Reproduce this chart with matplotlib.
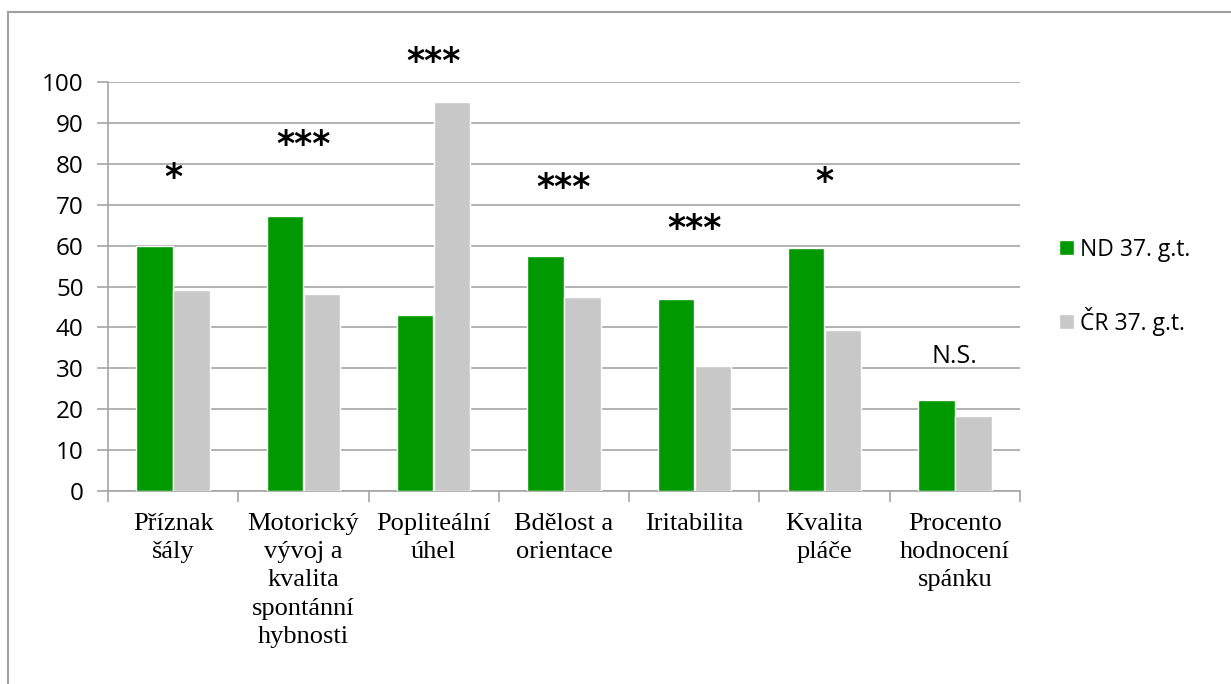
import matplotlib
matplotlib.use("Agg")
import matplotlib.pyplot as plt
from matplotlib.patches import Patch
from matplotlib.lines import Line2D
import numpy as np

categories = ["Příznak\nšály", "Motorický\nvývoj a\nkvalita\nspontánní\nhybnosti",
              "Popliteální\núhel", "Bdělost a\norientace", "Iritabilita",
              "Kvalita\npláče", "Procento\nhodnocení\nspánku"]
nd_values = [60, 67.3, 43, 57.5, 47, 59.5, 22.3]
cr_values = [49.2, 48.2, 95, 47.5, 30.5, 39.3, 18.3]
series_names = ["ND 37. g.t.", "ČR 37. g.t."]
significance = ["*", "***", "***", "***", "***", "*", "N.S."]
sig_y = [76.5, 84.5, 105, 74, 64, 75.5, 33]

W, H = 1231, 684
fig = plt.figure(figsize=(W / 100, H / 100), dpi=100)
ax = fig.add_axes([108 / W, 1 - 491 / H, (1020 - 108) / W, (491 - 82) / H])

green = "#009900"
gray = "#c8c8c8"
gridc = "#a6a6a6"

x = np.arange(len(categories))
bw = 0.28
ax.bar(x - 0.142, nd_values, width=bw, color=green, edgecolor="white", linewidth=1, zorder=3)
ax.bar(x + 0.142, cr_values, width=bw, color=gray, edgecolor="white", linewidth=1, zorder=3)

ax.set_xlim(-0.5, len(categories) - 0.5)
ax.set_ylim(0, 100)
ax.set_yticks(np.arange(0, 101, 10))
ax.yaxis.grid(True, color=gridc, linewidth=1.2, zorder=0)
ax.set_axisbelow(True)
for s in ["top", "right"]:
    ax.spines[s].set_visible(False)
for s in ["left", "bottom"]:
    ax.spines[s].set_color(gridc)
    ax.spines[s].set_linewidth(1.2)

ax.tick_params(axis="y", length=8, width=1.2, color=gridc, labelsize=17.5, pad=9.5)
for lab in ax.get_yticklabels():
    lab.set_fontfamily("Open Sans")

ax.set_xticks(x)
ax.set_xticklabels(categories, fontfamily="Liberation Serif", fontsize=19, linespacing=1.36, va="top")
ax.tick_params(axis="x", which="major", length=0, pad=16)
ax.set_xticks(np.arange(-0.5, len(categories), 1.0), minor=True)
ax.tick_params(axis="x", which="minor", length=8, width=1.2, color=gridc)

for i, (t, yv) in enumerate(zip(significance, sig_y)):
    if t == "N.S.":
        ax.text(i, yv, t, ha="center", va="center", fontsize=18, fontfamily="Open Sans", clip_on=False)
    else:
        ax.text(i, yv, t, ha="center", va="center", fontsize=25, fontweight="bold",
                fontfamily="DejaVu Sans", clip_on=False)

handles = [Patch(facecolor=green, edgecolor="white"), Patch(facecolor=gray, edgecolor="white")]
leg = fig.legend(handles, series_names, loc="upper left", bbox_to_anchor=(1038 / W, 1 - 217 / H),
                 frameon=False, prop={"family": "Open Sans", "size": 16.5},
                 handlelength=0.65, handleheight=0.65, handletextpad=0.3, labelspacing=1.97)

# outer border (chart area frame)
fig.add_artist(Line2D([8 / W, 1.0], [1 - 12 / H, 1 - 12 / H], color="#a0a0a0", linewidth=1.5))
fig.add_artist(Line2D([8 / W, 8 / W], [0, 1 - 12 / H], color="#a0a0a0", linewidth=1.5))

fig.savefig("out.png", dpi=100)
